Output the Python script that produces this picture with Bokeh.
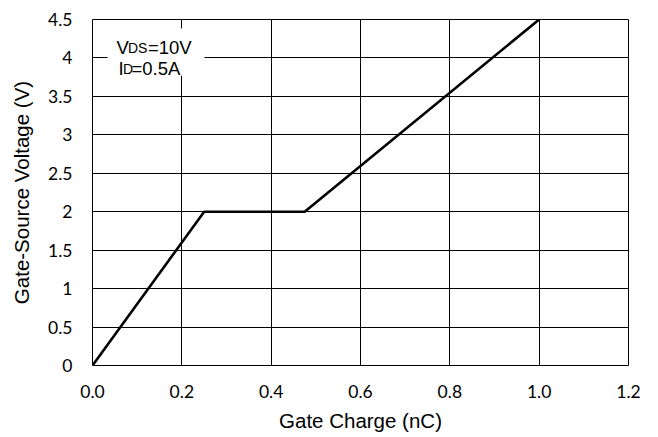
from bokeh.plotting import figure
from bokeh.models import FixedTicker, Label, BoxAnnotation, Range1d
from bokeh.embed import file_html
from bokeh.resources import INLINE

# Data
charge_nc = [0.0, 0.25, 0.475, 1.0]
gate_source_v = [0.0, 2.0, 2.0, 4.5]

x_ticks = [0.0, 0.2, 0.4, 0.6, 0.8, 1.0, 1.2]
x_tick_labels = ["0.0", "0.2", "0.4", "0.6", "0.8", "1.0", "1.2"]
y_ticks = [0.0, 0.5, 1.0, 1.5, 2.0, 2.5, 3.0, 3.5, 4.0, 4.5]
y_tick_labels = ["0", "0.5", "1", "1.5", "2", "2.5", "3", "3.5", "4", "4.5"]

TICK_FONT = "Lato"
TITLE_FONT = "Liberation Sans"

p = figure(width=658, height=437,
           x_range=Range1d(0, 1.2), y_range=Range1d(0, 4.5),
           output_backend="svg", toolbar_location=None,
           min_border_left=92, min_border_right=30,
           min_border_top=19, min_border_bottom=72)

p.line(charge_nc, gate_source_v, line_color="black", line_width=2.6)

# grid
for g in (p.xgrid, p.ygrid):
    g.grid_line_color = "black"
    g.grid_line_width = 1
    g.grid_line_alpha = 1
p.xgrid.ticker = FixedTicker(ticks=x_ticks)
p.ygrid.ticker = FixedTicker(ticks=y_ticks)

p.outline_line_color = "black"
p.outline_line_width = 1
p.outline_line_alpha = 1
p.background_fill_color = "white"
p.border_fill_color = "white"

# axes
p.xaxis.ticker = FixedTicker(ticks=x_ticks)
p.yaxis.ticker = FixedTicker(ticks=y_ticks)
p.xaxis.major_label_overrides = {t: s for t, s in zip(x_ticks, x_tick_labels)}
p.yaxis.major_label_overrides = {t: s for t, s in zip(y_ticks, y_tick_labels)}
for ax in (p.xaxis[0], p.yaxis[0]):
    ax.axis_line_color = None
    ax.major_tick_line_color = None
    ax.minor_tick_line_color = None
    ax.major_tick_out = 0
    ax.major_tick_in = 0
    ax.minor_tick_out = 0
    ax.minor_tick_in = 0
    ax.major_label_text_font = TICK_FONT
    ax.major_label_text_font_size = "17.5px"
    ax.major_label_text_color = "black"
    ax.axis_label_text_font = TITLE_FONT
    ax.axis_label_text_font_size = "20.5px"
    ax.axis_label_text_font_style = "normal"
    ax.axis_label_text_color = "black"

p.xaxis.axis_label = "Gate Charge (nC)"
p.yaxis.axis_label = "Gate-Source Voltage (V)"
p.xaxis.major_label_standoff = 19
p.xaxis.axis_label_standoff = 8
p.yaxis.major_label_standoff = 20
p.yaxis.axis_label_standoff = 12

# condition box
p.add_layout(BoxAnnotation(left=0.0336, right=0.2507, bottom=3.77, top=4.383,
                           fill_color="white", fill_alpha=1, line_color=None))

def lab(x, y, text, size, dx):
    p.add_layout(Label(x=x, y=y, x_offset=dx, text=text, text_font=TITLE_FONT,
                       text_font_size=size, text_color="black",
                       text_baseline="alphabetic", text_align="left"))

lab(0.0537, 4.135, "V", "18.5px", 0)
lab(0.0537, 4.135, "DS", "14px", 11.5)
lab(0.0537, 4.135, "=10V", "18.5px", 31.5)
lab(0.0582, 3.861, "I", "18.5px", 0)
lab(0.0582, 3.861, "D", "14px", 4.5)
lab(0.0582, 3.861, "=0.5A", "18.5px", 13)

open("out.html", "w").write(file_html(p, INLINE))
